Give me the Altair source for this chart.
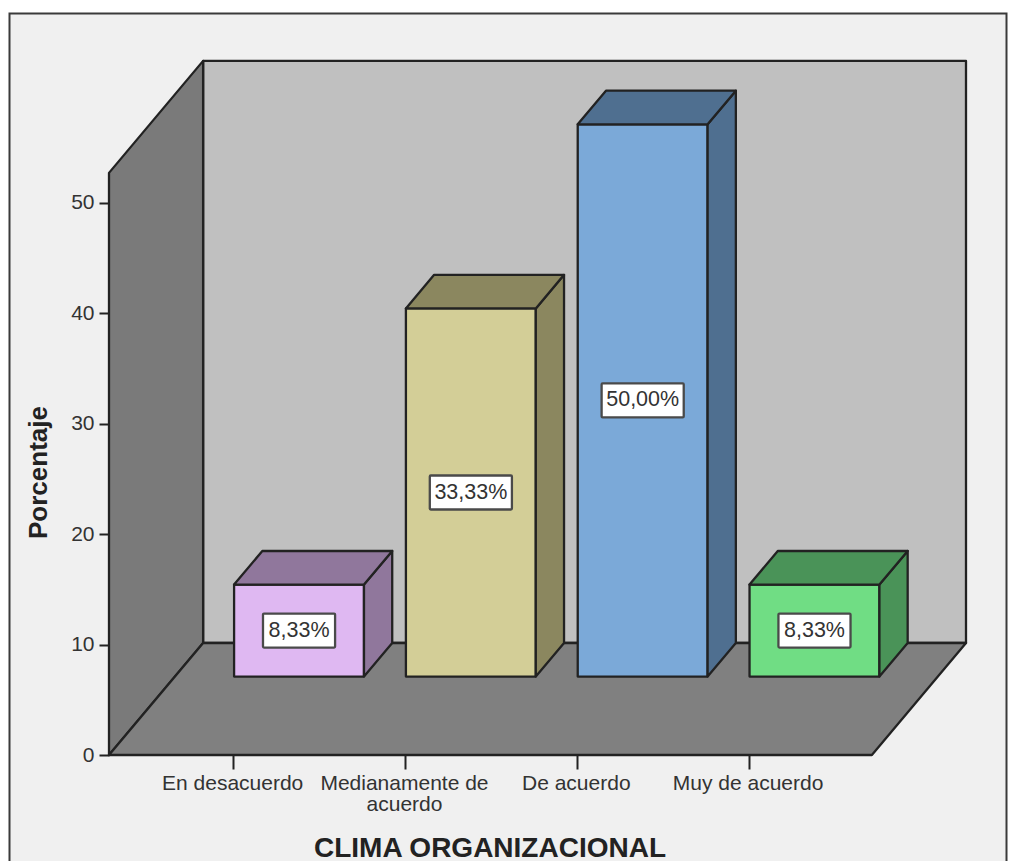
import altair as alt
import pandas as pd

# Survey results
categories = ["En desacuerdo", "Medianamente de acuerdo", "De acuerdo", "Muy de acuerdo"]
percentages = [8.33, 33.33, 50.00, 8.33]
front_colors = ["#dfb8f2", "#d3ce97", "#7ba9d8", "#70dd84"]
shade_colors = ["#90779c", "#8b875f", "#4f6f90", "#4a9358"]
y_ticks = [0, 10, 20, 30, 40, 50]

# Oblique projection: one unit of depth moves a point right and up the page
DX = 94 / 171.6     # in category steps
DY = 112 / 11.046   # in percentage points
BAR_W = 0.756
BAR_NEAR = 0.70     # depth of a bar's front face
BAR_FAR = 1.0       # depth of a bar's back face
FLOOR_L, FLOOR_R = -0.7226, 3.7175
WALL_TOP = 52.7
LINE = "#222222"
LINE_W = 2.3


def vertical_face(name, color, x0, x1, low0, high0, low1, high1):
    return [
        dict(face=name, color=color, x=x0, y=low0, y2=high0),
        dict(face=name, color=color, x=x1, y=low1, y2=high1),
    ]


def horizontal_face(name, color, y0, y1, left0, right0, left1, right1):
    return [
        dict(face=name, color=color, y=y0, x=left0, x2=right0),
        dict(face=name, color=color, y=y1, x=left1, x2=right1),
    ]


# Box walls and floor
left_wall = vertical_face("left", "#7a7a7a", FLOOR_L, FLOOR_L + DX, 0, WALL_TOP, DY, WALL_TOP + DY)
back_wall = vertical_face("back", "#c0c0c0", FLOOR_L + DX, FLOOR_R + DX, DY, WALL_TOP + DY, DY, WALL_TOP + DY)
floor = horizontal_face("floor", "#808080", 0, DY, FLOOR_L, FLOOR_R, FLOOR_L + DX, FLOOR_R + DX)

# Bars, boxes around the value labels
vertical_rows, top_rows, label_rows = [], [], []
for i, (value, front, shade) in enumerate(zip(percentages, front_colors, shade_colors)):
    left = i - BAR_W / 2 + BAR_NEAR * DX
    right = i + BAR_W / 2 + BAR_NEAR * DX
    base = BAR_NEAR * DY
    depth_x = (BAR_FAR - BAR_NEAR) * DX
    depth_y = (BAR_FAR - BAR_NEAR) * DY
    vertical_rows += vertical_face(f"front{i}", front, left, right, base, base + value, base, base + value)
    vertical_rows += vertical_face(f"side{i}", shade, right, right + depth_x, base, base + value,
                                   base + depth_y, base + value + depth_y)
    top_rows += horizontal_face(f"top{i}", shade, base + value, base + value + depth_y,
                                left, right, left + depth_x, right + depth_x)
    text = f"{value:.2f}".replace(".", ",") + "%"
    half_w = (36 if len(text) == 5 else 41) / 171.6
    half_h = 17 / 11.046
    label_rows.append(dict(
        text=text,
        cx=i + BAR_NEAR * DX, cy=base + value / 2,
        x=i + BAR_NEAR * DX - half_w, x2=i + BAR_NEAR * DX + half_w,
        y=base + value / 2 - half_h, y2=base + value / 2 + half_h,
    ))

x_scale = alt.Scale(domain=[FLOOR_L, FLOOR_R + DX], nice=False, zero=False)
y_scale = alt.Scale(domain=[0, 694 / 11.046], nice=False, zero=False)

label_expr = (
    "datum.value == 1 ? ['Medianamente de', 'acuerdo'] : "
    f"{categories!r}[datum.value]"
)
x_axis = alt.Axis(
    values=[0, 1, 2, 3], labelExpr=label_expr, title="CLIMA ORGANIZACIONAL",
    domain=False, grid=False, tickColor=LINE, tickWidth=2, tickSize=14,
    labelFont="Liberation Sans", labelFontSize=21, labelColor="#333333", labelPadding=3,
    labelLineHeight=21, labelOffset=-1, labelOverlap=False, labelBound=False, labelFlush=False,
    titleFont="Liberation Sans", titleFontSize=28, titleFontWeight="bold", titleColor="#222222",
    titleX=380.5, titleY=93, titleBaseline="middle", titleAnchor="middle", zindex=1,
)
y_axis = alt.Axis(
    values=y_ticks, format="d", title="Porcentaje",
    domain=False, grid=False, tickColor=LINE, tickWidth=2, tickSize=10,
    labelFont="Liberation Sans", labelFontSize=21, labelColor="#333333", labelPadding=5,
    labelOverlap=False, labelBound=False, labelFlush=False,
    titleFont="Liberation Sans", titleFontSize=26, titleFontWeight="bold", titleColor="#222222",
    titleX=-71, titleY=411, titleBaseline="middle", titleAnchor="middle", zindex=1,
)

fill = alt.Color("color:N", scale=None, legend=None)
x_q = alt.X("x:Q", scale=x_scale, axis=x_axis)
y_q = alt.Y("y:Q", scale=y_scale, axis=y_axis)


def vertical_layer(rows):
    return alt.Chart(pd.DataFrame(rows)).mark_area(
        stroke=LINE, strokeWidth=LINE_W, strokeJoin="round", orient="vertical"
    ).encode(x=x_q, y=y_q, y2="y2:Q", color=fill, detail="face:N")


def horizontal_layer(rows):
    return alt.Chart(pd.DataFrame(rows)).mark_area(
        stroke=LINE, strokeWidth=LINE_W, strokeJoin="round", orient="horizontal"
    ).encode(x=x_q, x2="x2:Q", y=y_q, color=fill, detail="face:N")


# Outer frame of the chart, open past the lower edge of the page
frame = alt.Chart(pd.DataFrame({"a": [0]})).mark_rect(
    fill="#f0f0f0", stroke="#3a3a3a", strokeWidth=2
).encode(
    x=alt.value(-99.5), x2=alt.value(897.5), y=alt.value(-47.5), y2=alt.value(820)
)

labels = pd.DataFrame(label_rows)
label_boxes = alt.Chart(labels).mark_rect(
    fill="white", stroke="#4a4a4a", strokeWidth=2.3, cornerRadius=1
).encode(x=x_q, x2="x2:Q", y=y_q, y2="y2:Q")
label_text = alt.Chart(labels).mark_text(
    font="Liberation Sans", fontSize=21.5, color="#333333", baseline="middle", align="center"
).encode(
    x=alt.X("cx:Q", scale=x_scale, axis=x_axis),
    y=alt.Y("cy:Q", scale=y_scale, axis=y_axis),
    text="text:N",
)

chart = alt.layer(
    frame,
    vertical_layer(back_wall),
    vertical_layer(left_wall),
    horizontal_layer(floor),
    vertical_layer(vertical_rows),
    horizontal_layer(top_rows),
    label_boxes,
    label_text,
).properties(
    width=857,
    height=694,
    padding={"left": 109, "top": 61, "right": 44, "bottom": 106},
    autosize=alt.AutoSizeParams(type="none"),
    background="white",
).configure_view(stroke=None)

chart.save("out.html", embed_options={"renderer": "svg", "actions": False})
